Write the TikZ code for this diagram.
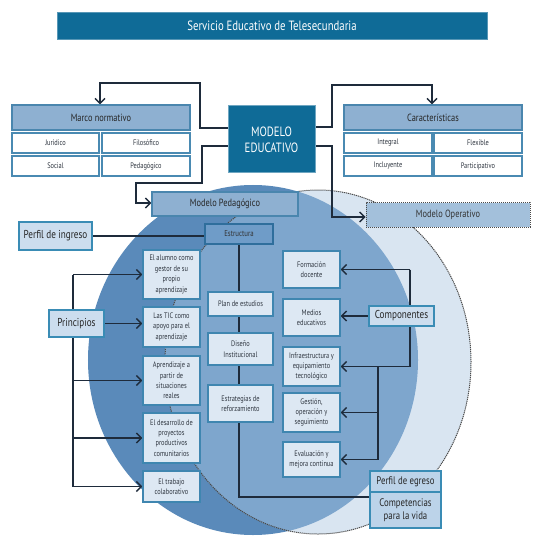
\documentclass[tikz,border=0pt]{standalone}
\usepackage{fontspec}
\setmainfont{PT Sans}[FakeStretch=0.8]
\usetikzlibrary{arrows.meta,calc}
\pgfdeclarelayer{back}
\pgfdeclarelayer{wires}
\pgfsetlayers{back,wires,main}
\definecolor{titleblue}{HTML}{0F6B97}
\definecolor{hdrfill}{HTML}{8EB0D1}
\definecolor{hdrdraw}{HTML}{4A86AE}
\definecolor{celldraw}{HTML}{4A8AB2}
\definecolor{boxfill}{HTML}{DDE8F3}
\definecolor{boxdraw}{HTML}{3F86B0}
\definecolor{keyfill}{HTML}{CCDDEE}
\definecolor{keydraw}{HTML}{3A8CB5}
\definecolor{estrfill}{HTML}{6F9CC8}
\definecolor{estrdraw}{HTML}{2F6E9C}
\definecolor{mofill}{HTML}{A3C0DB}
\definecolor{egrfill}{HTML}{BCD3E9}
\definecolor{darkc}{HTML}{5A8ABA}
\definecolor{midc}{HTML}{7EA6CD}
\definecolor{lightc}{HTML}{D9E5F1}
\definecolor{wirec}{HTML}{1E2B3B}
\definecolor{txt}{HTML}{2F3640}
\definecolor{dotc}{HTML}{4A4A4A}
\begin{document}
\begin{tikzpicture}[x=1bp,y=-1bp,
  every node/.style={inner sep=0pt, align=center, text=txt},
  titlebox/.style={fill=titleblue, draw=titleblue!70!white, line width=0.8bp, text=white, font=\fontsize{13.5}{15}\selectfont},
  modelbox/.style={fill=titleblue, draw=titleblue!60!white, line width=1bp, text=white, font=\fontsize{13.5}{16}\selectfont},
  hdr/.style={fill=hdrfill, draw=hdrdraw, line width=1.2bp, text=black!85, font=\fontsize{10.5}{12}\selectfont},
  cell/.style={fill=white, draw=celldraw, line width=1.2bp, font=\fontsize{8}{9}\selectfont},
  smallbox/.style={fill=boxfill, draw=boxdraw, line width=1.2bp, font=\fontsize{8}{10.5}\selectfont},
  keybox/.style={fill=keyfill, draw=keydraw, line width=1.6bp, text=black!85, font=\fontsize{11.5}{13}\selectfont},
  estrbox/.style={fill=estrfill, draw=estrdraw, line width=1.2bp, text=black!80, font=\fontsize{8.5}{10}\selectfont},
  opbox/.style={fill=mofill, draw=dotc, line width=1bp, dash pattern=on 1.2bp off 0.8bp, text=black!80, font=\fontsize{10.5}{12}\selectfont},
  egrbox/.style={fill=egrfill, draw=keydraw, line width=1.4bp, text=black!85, font=\fontsize{11}{13}\selectfont},
  wire/.style={draw=wirec, line width=1.5bp},
  arr/.style={wire, -{Straight Barb[length=5bp,width=10bp,line width=1.4bp]}},
  dotb/.style={draw=dotc, line width=1bp, dash pattern=on 1.2bp off 0.8bp}
]
\useasboundingbox (0,0) rectangle (542,549);
\begin{pgfonlayer}{back}
  \fill[white] (0,0) rectangle (542,549);
  \fill[darkc] (253,360) ellipse [x radius=165bp, y radius=175bp];
  \fill[lightc] (318,362) ellipse [x radius=153bp, y radius=172bp];
  \begin{scope}
    \clip (253,360) ellipse [x radius=165bp, y radius=175bp];
    \fill[midc] (318,362) ellipse [x radius=153bp, y radius=172bp];
  \end{scope}
  \draw[dotb] (318,362) ellipse [x radius=153bp, y radius=172bp];
\end{pgfonlayer}

% title and model
\node[titlebox, minimum width=430bp, minimum height=27bp] (title) at (272,25.5) {Servicio Educativo de Telesecundaria};
\node[modelbox, minimum width=87bp, minimum height=67bp] (me) at (271.5,139.5) {MODELO\\EDUCATIVO};

% marco normativo
\node[hdr, minimum width=178bp, minimum height=25bp] (mn) at (101,117.5) {Marco normativo};
\node[cell, minimum width=87bp, minimum height=20bp] (jur) at (55.5,143) {Jurídico};
\node[cell, minimum width=88bp, minimum height=20bp] (fil) at (146,143) {Filosófico};
\node[cell, minimum width=87bp, minimum height=20bp] (soc) at (55.5,166) {Social};
\node[cell, minimum width=88bp, minimum height=20bp] (ped) at (146,166) {Pedagógico};

% caracteristicas
\node[hdr, minimum width=178bp, minimum height=25bp] (car) at (433,117.5) {Características};
\node[cell, minimum width=88bp, minimum height=20bp] (int) at (388,143) {Integral};
\node[cell, minimum width=88bp, minimum height=20bp] (fle) at (478,143) {Flexible};
\node[cell, minimum width=88bp, minimum height=20bp] (inc) at (388,166) {Incluyente};
\node[cell, minimum width=88bp, minimum height=20bp] (par) at (478,166) {Participativo};

% models
\node[hdr, minimum width=146bp, minimum height=24bp] (mp) at (225,204) {Modelo Pedagógico};
\node[opbox, minimum width=164bp, minimum height=24bp] (mo) at (448,215) {Modelo Operativo};

% left side
\node[keybox, minimum width=73bp, minimum height=28bp] (pi) at (55.5,236) {Perfil de ingreso};
\node[estrbox, minimum width=68bp, minimum height=20bp] (es) at (239,234) {Estructura};
\node[keybox, minimum width=55bp, minimum height=27bp] (pr) at (76.5,323.5) {Principios};

\node[smallbox, minimum width=57bp, minimum height=49bp] (b1) at (171.5,274.5) {El alumno como\\gestor de su\\propio\\aprendizaje};
\node[smallbox, minimum width=57bp, minimum height=40bp] (b2) at (171.5,327) {Las TIC como\\apoyo para el\\aprendizaje};
\node[smallbox, minimum width=57bp, minimum height=49bp] (b3) at (171.5,380.5) {Aprendizaje a\\partir de\\situaciones\\reales};
\node[smallbox, minimum width=57bp, minimum height=50bp] (b4) at (171.5,438) {El desarrollo de\\proyectos\\productivos\\comunitarios};
\node[smallbox, minimum width=57bp, minimum height=31bp] (b5) at (171.5,486.5) {El trabajo\\colaborativo};

% middle
\node[smallbox, minimum width=65bp, minimum height=24bp] (pl) at (240.5,304) {Plan de estudios};
\node[smallbox, minimum width=65bp, minimum height=32bp] (di) at (240.5,349) {Diseño\\Institucional};
\node[smallbox, minimum width=65bp, minimum height=37bp] (er) at (240.5,403.5) {Estrategias de\\reforzamiento};

% right side
\node[smallbox, minimum width=57bp, minimum height=37bp] (fd) at (311.5,269.5) {Formación\\docente};
\node[smallbox, minimum width=57bp, minimum height=37bp] (md) at (311.5,317.5) {Medios\\educativos};
\node[smallbox, minimum width=57bp, minimum height=39bp] (inf) at (311.5,366.5) {Infraestructura y\\equipamiento\\tecnológico};
\node[smallbox, minimum width=57bp, minimum height=39bp] (ge) at (311.5,412.5) {Gestión,\\operación y\\seguimiento};
\node[smallbox, minimum width=57bp, minimum height=35bp] (ev) at (311.5,459.5) {Evaluación y\\mejora continua};
\node[keybox, minimum width=65bp, minimum height=20bp] (co) at (401.5,316) {Componentes};

\node[egrbox, minimum width=71bp, minimum height=21bp] (pe) at (405.5,481.5) {Perfil de egreso};
\node[egrbox, minimum width=71bp, minimum height=36bp] (cv) at (405.5,510) {Competencias\\para la vida};

\begin{pgfonlayer}{wires}
  % top connectors
  \draw[arr] (me.west |- 0,128) -| (200,83) -| (mn.north -| 100,0);
  \draw[arr] (me.east |- 0,127) -| (332,85) -| (car.north -| 432,0);
  \draw[arr] (me.west |- 0,146) -| (202,183) -| (136,203) -- (mp.west |- 0,203);
  \draw[arr] (me.east |- 0,146) -| (332,217) -- (mo.west |- 0,217);
  % perfil de ingreso to estructura
  \draw[wire] (pi.east) -- (pi.east -| es.west);
  % estructura spine to perfil de egreso
  \draw[wire] (es.south) -- (es.south |- 0,497) -- (cv.west |- 0,497);
  % principios
  \draw[wire] (b1.west -| 73,0) -- (b5.west -| 73,0);
  \draw[arr] (b1.west -| 73,0) -- (b1.west);
  \draw[arr] (pr.east) -- (pr.east -| b2.west);
  \draw[arr] (b3.west -| 73,0) -- (b3.west);
  \draw[arr] (b4.west -| 73,0) -- (b4.west);
  \draw[arr] (b5.west -| 73,0) -- (b5.west);
  % componentes
  \draw[wire] (fd.east -| 410,0) -- (inf.east -| 410,0);
  \draw[arr] (fd.east -| 410,0) -- (fd.east);
  \draw[arr] (co.west) -- (co.west -| md.east);
  \draw[arr] (inf.east -| 410,0) -- (inf.east);
  \draw[wire] (inf.east -| 378,0) -- (ev.east -| 378,0);
  \draw[arr] (ge.east -| 378,0) -- (ge.east);
  \draw[arr] (ev.east -| 378,0) -- (ev.east);
\end{pgfonlayer}
\end{tikzpicture}
\end{document}
